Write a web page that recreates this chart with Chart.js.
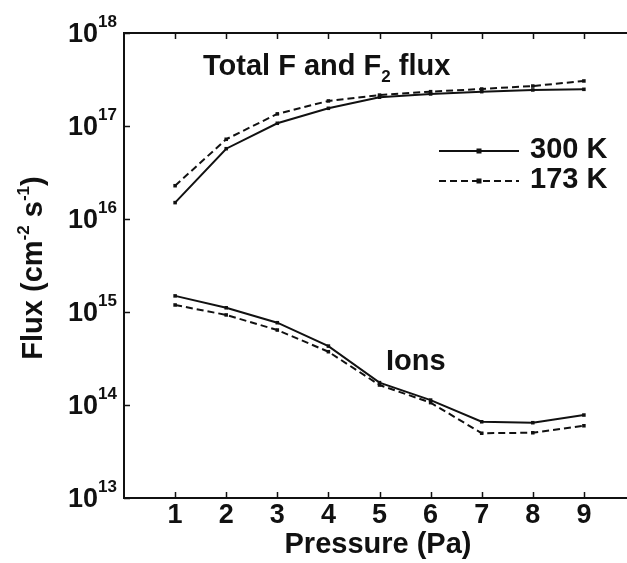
<!DOCTYPE html>
<html>
<head>
<meta charset="utf-8">
<script src="https://cdn.jsdelivr.net/npm/chart.js@4/dist/chart.umd.min.js"></script>
<style>
  html, body { margin: 0; padding: 0; background: #fff; overflow: hidden; }
  #c { display: block; }
</style>
</head>
<body>
<canvas id="c" width="640" height="563"></canvas>
<script>
'use strict';

// ── Data ──────────────────────────────────────────────────────────────────────
const pressure    = [1, 2, 3, 4, 5, 6, 7, 8, 9];
const total300K   = [1.5e16, 5.7e16, 1.07e17, 1.55e17, 2.04e17, 2.21e17, 2.34e17, 2.44e17, 2.48e17];
const total173K   = [2.28e16, 7.2e16, 1.35e17, 1.86e17, 2.15e17, 2.34e17, 2.5e17, 2.69e17, 3.05e17];
const ions300K    = [1.49e15, 1.11e15, 7.67e14, 4.3e14, 1.74e14, 1.13e14, 6.6e13, 6.45e13, 7.8e13];
const ions173K    = [1.19e15, 9.3e14, 6.4e14, 3.74e14, 1.64e14, 1.06e14, 4.97e13, 5.03e13, 5.98e13];
const xTickLabels = ['1', '2', '3', '4', '5', '6', '7', '8', '9'];
const yTickExps   = [13, 14, 15, 16, 17, 18];
const legendNames = ['300 K', '173 K'];

// ── Style ─────────────────────────────────────────────────────────────────────
const FONT  = "'Liberation Sans', Arial, Helvetica, sans-serif";
const INK   = '#111';
const DASH  = [7, 4];

const pts = ys => pressure.map((x, i) => ({ x, y: ys[i] }));

function series(ys, dashed) {
  return {
    data: pts(ys),
    borderColor: INK,
    backgroundColor: INK,
    borderWidth: 2,
    borderDash: dashed ? DASH : [],
    pointStyle: 'rect',
    pointRadius: 2.5,
    pointBorderWidth: 0,
    tension: 0,
    fill: false,
  };
}

// ── Overlay: frame, ticks, labels, annotations ────────────────────────────────
const overlay = {
  id: 'overlay',
  afterDatasetsDraw(chart) {
    const { ctx, chartArea: a, scales: { x, y } } = chart;
    ctx.save();
    ctx.strokeStyle = INK;
    ctx.fillStyle   = INK;

    // frame
    ctx.lineWidth = 2;
    ctx.strokeRect(a.left, a.top, a.right - a.left, a.bottom - a.top);

    // inward ticks
    ctx.lineWidth = 1.5;
    ctx.beginPath();
    pressure.forEach(v => {
      const px = Math.round(x.getPixelForValue(v)) + 0.5;
      ctx.moveTo(px, a.bottom); ctx.lineTo(px, a.bottom - 6);
      ctx.moveTo(px, a.top);    ctx.lineTo(px, a.top + 6);
    });
    yTickExps.forEach(e => {
      const py = Math.round(y.getPixelForValue(Math.pow(10, e))) + 0.5;
      ctx.moveTo(a.left, py);  ctx.lineTo(a.left + 6, py);
      ctx.moveTo(a.right, py); ctx.lineTo(a.right - 6, py);
    });
    ctx.stroke();

    // x tick labels
    ctx.font = `bold 27px ${ FONT }`;
    ctx.textAlign = 'center';
    ctx.textBaseline = 'alphabetic';
    xTickLabels.forEach((t, i) => ctx.fillText(t, x.getPixelForValue(pressure[i]), a.bottom + 25));

    // y tick labels 10^n
    yTickExps.forEach(e => {
      const py = y.getPixelForValue(Math.pow(10, e));
      ctx.font = `bold 17px ${ FONT }`;
      const wSup = ctx.measureText(String(e)).width;
      ctx.font = `bold 27px ${ FONT }`;
      const wBase = ctx.measureText('10').width;
      const right = a.left - 7;
      ctx.textAlign = 'left';
      ctx.fillText('10', right - wSup - wBase, py + 9);
      ctx.font = `bold 17px ${ FONT }`;
      ctx.fillText(String(e), right - wSup, py - 6);
    });

    // x title
    ctx.font = `bold 29px ${ FONT }`;
    ctx.textAlign = 'center';
    ctx.fillText('Pressure (Pa)', 378, 553);

    // y title (rotated, with superscripts)
    ctx.save();
    ctx.translate(42, 268);
    ctx.rotate(-Math.PI / 2);
    const parts = [
      ['Flux (cm', 29, 0], ['-2', 17, -13], [' s', 29, 0], ['-1', 17, -13], [')', 29, 0],
    ];
    let tw = 0;
    parts.forEach(p => { ctx.font = `bold ${ p[1] }px ${ FONT }`; p.w = ctx.measureText(p[0]).width; tw += p.w; });
    let cx = -tw / 2;
    ctx.textAlign = 'left';
    parts.forEach(p => { ctx.font = `bold ${ p[1] }px ${ FONT }`; ctx.fillText(p[0], cx, p[2]); cx += p.w; });
    ctx.restore();

    // annotation: Total F and F2 flux
    ctx.textAlign = 'left';
    let ax = 203;
    ctx.font = `bold 29px ${ FONT }`;
    ctx.fillText('Total F and F', ax, 75);
    ax += ctx.measureText('Total F and F').width;
    ctx.font = `bold 17px ${ FONT }`;
    ctx.fillText('2', ax, 82);
    ax += ctx.measureText('2').width;
    ctx.font = `bold 29px ${ FONT }`;
    ctx.fillText(' flux', ax, 75);

    // annotation: Ions
    ctx.fillText('Ions', 386, 370);

    // legend
    [151, 181].forEach((ly, i) => {
      ctx.lineWidth = 2;
      ctx.setLineDash(i ? DASH : []);
      ctx.beginPath();
      ctx.moveTo(439, ly); ctx.lineTo(519, ly);
      ctx.stroke();
      ctx.setLineDash([]);
      ctx.fillRect(476.5, ly - 2.5, 5, 5);
      ctx.font = `bold 29px ${ FONT }`;
      ctx.fillText(legendNames[i], 530, ly + 7);
    });

    ctx.restore();
  }
};

// ── Chart ─────────────────────────────────────────────────────────────────────
new Chart(document.getElementById('c'), {
  type: 'line',
  data: {
    datasets: [
      series(total300K, false),
      series(total173K, true),
      series(ions300K,  false),
      series(ions173K,  true),
    ]
  },
  options: {
    responsive: false,
    animation: false,
    devicePixelRatio: 1,
    layout: { padding: { left: 124, top: 33, right: 5, bottom: 65 } },
    plugins: { legend: { display: false }, tooltip: { enabled: false } },
    scales: {
      x: { type: 'linear', min: 0, max: 10, display: false },
      y: { type: 'logarithmic', min: 1e13, max: 1e18, display: false },
    },
  },
  plugins: [overlay],
});
</script>
</body>
</html>
